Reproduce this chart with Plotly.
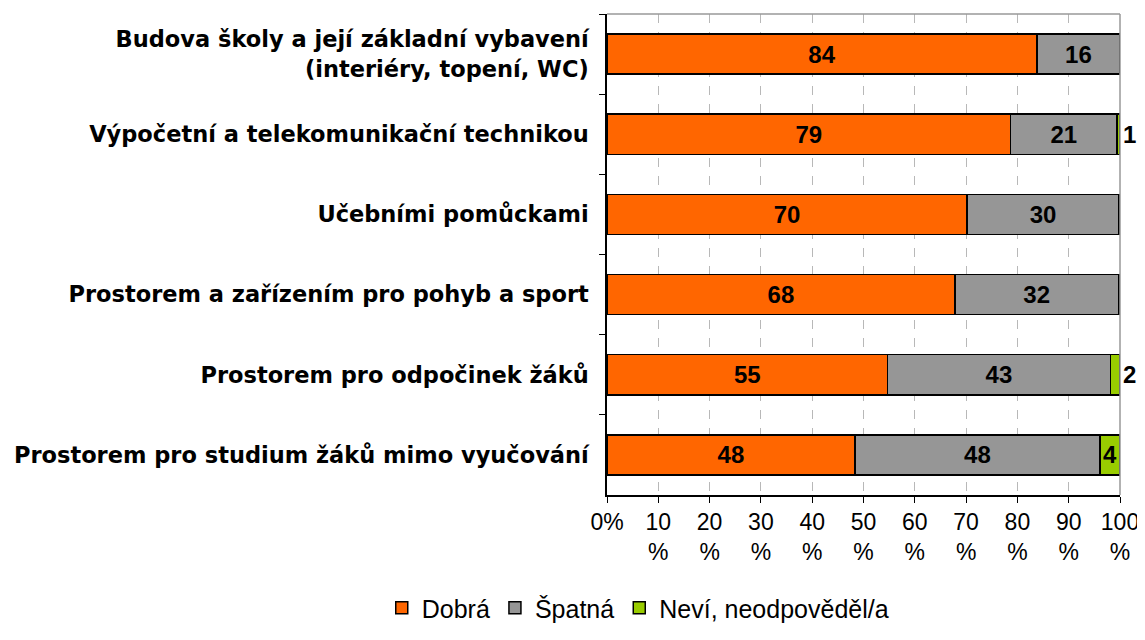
import plotly.graph_objects as go

categories = [
    "Budova školy a její základní vybavení<br>(interiéry, topení, WC)",
    "Výpočetní a telekomunikační technikou",
    "Učebními pomůckami",
    "Prostorem a zařízením pro pohyb a sport",
    "Prostorem pro odpočinek žáků",
    "Prostorem pro studium žáků mimo vyučování",
]
dobra = [83.8, 78.7, 70.2, 67.8, 54.7, 48.3]
spatna = [16.2, 20.7, 29.6, 31.9, 43.4, 47.8]
nevi = [0.0, 0.6, 0.2, 0.3, 1.9, 3.9]
nevi_labels = ["", "1", "", "", "2", "4"]
nevi_pos = ["none", "outside", "none", "none", "outside", "inside"]

tick_vals = list(range(0, 101, 10))
tick_text = ["0%"] + [f"{v}<br>%" for v in tick_vals[1:]]

font = "Liberation Sans, Arial, sans-serif"
label_font = "DejaVu Sans, Liberation Sans, sans-serif"
outline = dict(color="black", width=1.5)
bar_text = dict(family=font, size=24, color="black", weight="bold")

fig = go.Figure()
fig.add_trace(go.Bar(
    y=categories, x=dobra, orientation="h", name="Dobrá",
    marker=dict(color="#FF6600", line=outline),
    text=[f"{v:.0f}" for v in dobra], textposition="inside",
    insidetextanchor="middle", constraintext="none", textfont=bar_text,
))
fig.add_trace(go.Bar(
    y=categories, x=spatna, orientation="h", name="Špatná",
    marker=dict(color="#969696", line=outline),
    text=[f"{v:.0f}" for v in spatna], textposition="inside",
    insidetextanchor="middle", constraintext="none", textfont=bar_text,
))
fig.add_trace(go.Bar(
    y=categories, x=nevi, orientation="h", name="Neví, neodpověděl/a",
    marker=dict(color="#99CC00", line=outline),
    text=nevi_labels, textposition=nevi_pos,
    insidetextanchor="middle", constraintext="none", cliponaxis=False,
    textfont=bar_text,
))

# page body adds 8px offset, so margins are trimmed to compensate
fig.update_layout(
    width=1145, height=640,
    barmode="stack", bargap=0.5,
    plot_bgcolor="white", paper_bgcolor="white",
    margin=dict(l=596, r=33, t=6, b=153),
    font=dict(family=font, size=23, color="black"),
    legend=dict(orientation="h", x=0.55, xanchor="center", xref="container",
                y=0.0625, yanchor="middle", yref="container",
                font=dict(size=25), itemwidth=30, traceorder="normal"),
    shapes=[
        dict(type="line", xref="paper", yref="paper", x0=0, x1=1, y0=1, y1=1,
             line=dict(color="#999999", width=1.5)),
        dict(type="line", xref="paper", yref="paper", x0=1, x1=1, y0=0, y1=1,
             line=dict(color="#999999", width=1.5)),
    ],
)
fig.update_xaxes(
    range=[0, 100], tickvals=tick_vals, ticktext=tick_text,
    showgrid=True, gridcolor="#b8b8b8", griddash="dash", gridwidth=1,
    showline=True, linecolor="black", linewidth=1.5,
    ticks="outside", ticklen=6, tickcolor="black", zeroline=False,
    tickfont=dict(size=23),
)
fig.update_yaxes(
    autorange="reversed", showline=True, linecolor="black", linewidth=1.5,
    ticks="outside", tickson="boundaries", ticklen=6, tickcolor="black",
    ticklabelstandoff=12,
    tickfont=dict(family=label_font, size=22.5, weight="bold"),
)

fig.write_html("out.html")
